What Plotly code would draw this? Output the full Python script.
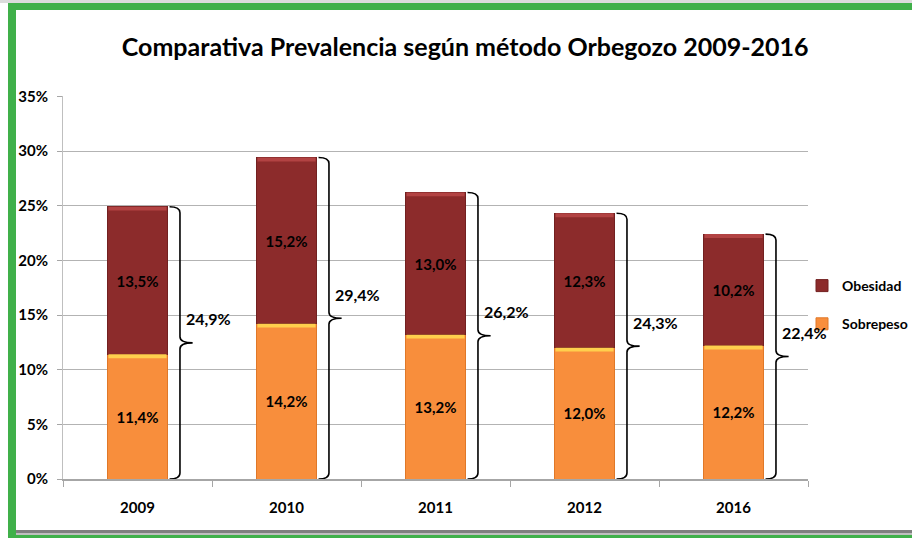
import plotly.graph_objects as go

years = ["2009", "2010", "2011", "2012", "2016"]
sobrepeso = [11.4, 14.2, 13.2, 12.0, 12.2]
obesidad = [13.5, 15.2, 13.0, 12.3, 10.2]
totals = [24.9, 29.4, 26.2, 24.3, 22.4]
y_ticks = [0, 5, 10, 15, 20, 25, 30, 35]
y_tick_labels = [f"{v}%" for v in y_ticks]

FONT = "Lato, Liberation Sans, sans-serif"
ORANGE = "#F88E3C"
RED = "#8C2B2B"

fig = go.Figure()
fig.add_trace(go.Bar(
    x=years, y=sobrepeso, name="Sobrepeso", width=0.4,
    marker=dict(color=ORANGE, line=dict(color="#E07828", width=1)),
    texttemplate="%{y:.1f}%", textposition="inside", insidetextanchor="middle",
    textfont=dict(family=FONT, size=15, color="black", weight="bold"),
    textangle=0, constraintext="none",
    legendrank=2, legendgroup="s",
))
fig.add_trace(go.Bar(
    x=years, y=obesidad, name="Obesidad", width=0.4,
    marker=dict(color=RED, line=dict(color="#722020", width=1)),
    texttemplate="%{y:.1f}%", textposition="inside", insidetextanchor="middle",
    textfont=dict(family=FONT, size=15, color="black", weight="bold"),
    textangle=0, constraintext="none",
    legendrank=1, legendgroup="o",
))

shapes = []
# bevel highlights on top of each segment
for i, (s, o) in enumerate(zip(sobrepeso, obesidad)):
    shapes.append(dict(type="rect", xref="x", yref="y", x0=i - 0.195, x1=i + 0.195,
                       y0=s - 0.35, y1=s, fillcolor="#FFCF4D", line=dict(width=0), layer="above"))
    shapes.append(dict(type="rect", xref="x", yref="y", x0=i - 0.195, x1=i + 0.195,
                       y0=s + o - 0.35, y1=s + o, fillcolor="#B24343", line=dict(width=0), layer="above"))

# curly braces
ry = 0.55
for i, t in enumerate(totals):
    x0, x1, x2 = i + 0.215, i + 0.285, i + 0.37
    top, bot, mid = t, 0.0, t / 2
    path = (f"M {x0},{top} Q {x1},{top} {x1},{top - ry} L {x1},{mid + ry} "
            f"Q {x1},{mid} {x2},{mid} Q {x1},{mid} {x1},{mid - ry} "
            f"L {x1},{bot + ry} Q {x1},{bot} {x0},{bot}")
    shapes.append(dict(type="path", xref="x", yref="y", path=path,
                       line=dict(color="black", width=1.6), layer="above"))

# frame decoration (pixel -> paper)
L, R, T, B = 63, 808, 96, 479
def px(x):
    return (x - L) / (R - L)
def py(y):
    return (B - y) / (B - T)

def rect(xa, ya, xb, yb, color):
    shapes.append(dict(type="rect", xref="paper", yref="paper",
                       x0=px(xa), x1=px(xb), y0=py(ya), y1=py(yb),
                       fillcolor=color, line=dict(width=0), layer="above"))

rect(0, 0, 912, 3, "#DCDCDC")
rect(8, 3, 912, 10, "#40B04A")
rect(8, 3, 16, 538, "#40B04A")
rect(16, 530, 912, 533, "#7F7F7F")
rect(16, 533, 912, 535, "#BFBFBF")
rect(8, 535, 912, 538, "#40B04A")

annotations = []
for i, t in enumerate(totals):
    annotations.append(dict(
        x=i + 0.31, y=t / 2, xref="x", yref="y", yshift=24,
        text=f"{t:.1f}".replace(".", ",") + "%", showarrow=False,
        xanchor="left", yanchor="middle",
        font=dict(family=FONT, size=16, color="black", weight="bold"),
    ))

fig.update_layout(
    width=912, height=538,
    margin=dict(l=L, r=912 - R, t=T, b=538 - B, autoexpand=False),
    paper_bgcolor="white", plot_bgcolor="white",
    barmode="stack", bargap=0.6,
    separators=",.",
    title=dict(text="Comparativa Prevalencia según método Orbegozo 2009-2016",
               x=0.51, xref="container", xanchor="center",
               y=1 - 47 / 538, yref="container", yanchor="middle",
               font=dict(family=FONT, size=25, color="black", weight="bold")),
    font=dict(family=FONT, color="black"),
    legend=dict(x=px(802), y=py(270), xanchor="left", yanchor="top",
                tracegroupgap=17, bgcolor="rgba(0,0,0,0)",
                font=dict(family=FONT, size=14, color="black", weight="bold")),
    xaxis=dict(type="category", range=[-0.5, 4.5], showline=True, linecolor="#A6A6A6",
               linewidth=1.5, ticks="outside", tickson="boundaries", ticklen=6,
               tickcolor="#A6A6A6", showgrid=False, ticklabelstandoff=14,
               tickfont=dict(family=FONT, size=15, color="black", weight="bold")),
    yaxis=dict(range=[0, 35.03], tickvals=y_ticks, ticktext=y_tick_labels, showline=True,
               linecolor="#BFBFBF", ticks="outside", ticklen=5, tickcolor="#A6A6A6",
               gridcolor="#B3B3B3", gridwidth=1, zeroline=False, ticklabelstandoff=6,
               tickfont=dict(family=FONT, size=15, color="black", weight="bold")),
    shapes=shapes, annotations=annotations,
)

fig.write_html("out.html", config={"displayModeBar": False},
               post_script="document.body.style.margin='0';document.body.style.overflow='hidden';")
